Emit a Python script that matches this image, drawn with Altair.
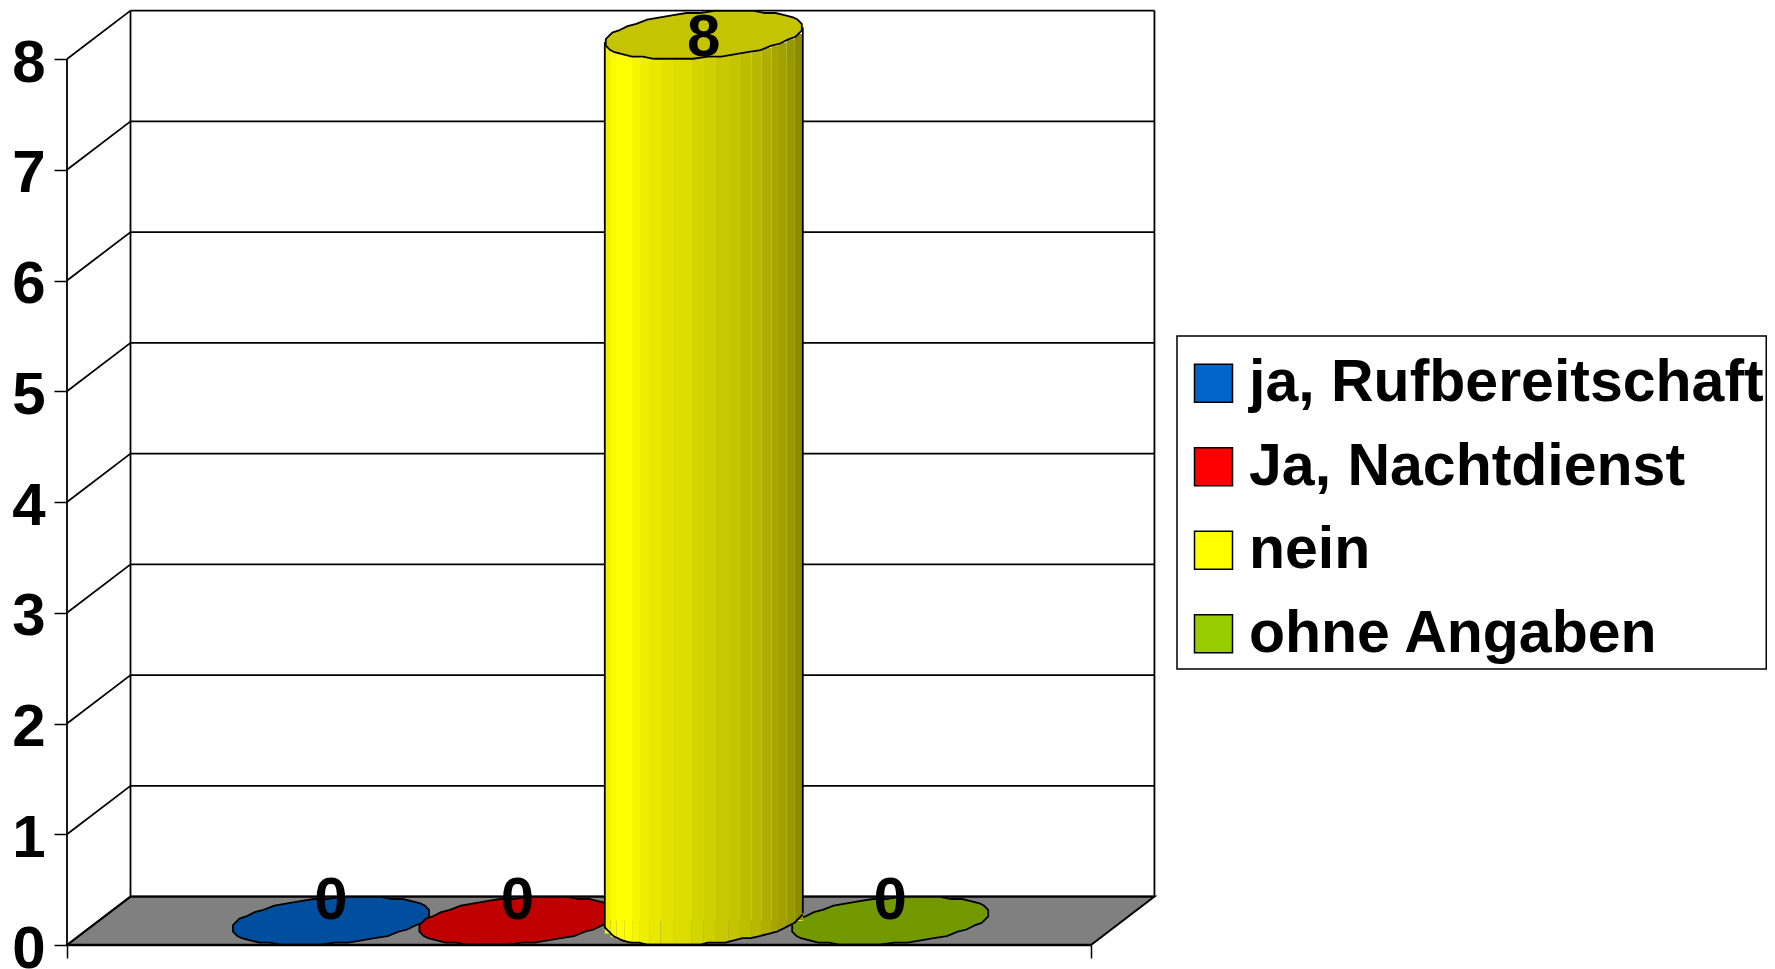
import altair as alt
import numpy as np
import pandas as pd

categories = ["ja, Rufbereitschaft", "Ja, Nachtdienst", "nein", "ohne Angaben"]
values = [0, 0, 8, 0]
legend_colors = ["#0066cc", "#ff0000", "#ffff00", "#99cc00"]
top_colors = ["#004f9e", "#c00000", "#c4c400", "#739900"]
y_ticks = [0, 1, 2, 3, 4, 5, 6, 7, 8]

strip_edges = [0.0, .03, .059, .099, .138, .177, .224, .281, .345, .439, .497, .561, .623, .682, .741, .791, .842, .875, .918, .96, 1.0]
strip_colors = ["#f0f000", "#fafa00", "#ffff00", "#ffff00", "#f6f600", "#eeee00", "#e8e800", "#e2e200", "#dcdc00", "#d4d400",
                "#cece00", "#c8c800", "#c4c400", "#bebe00", "#b8b800", "#aeae00", "#a6a600", "#a0a000", "#989800", "#8c8c00"]

FONT = "Liberation Sans"
UX = 186.4     # px per category
UY = 110.75    # px per value unit
XMIN, XMAX = -1.4163, 7.7039
YMAX = 935 / UY
xL, xR = XMIN, 4.077
dx, dy = 63.5 / UX, 48.4 / UY
R_px, A_px, S_px, B_px = 99.0, 94.0, 31.0, 24.15
R, A, S, B = R_px / UX, A_px / UX, S_px / UX, B_px / UY
mid = dy / 2
LW = 1.8

x_scale = alt.Scale(domain=[XMIN, XMAX], nice=False, zero=False)
y_scale = alt.Scale(domain=[0, YMAX], nice=False, zero=False)
x_axis = alt.Axis(values=[xL, xR], labels=False, domain=False, grid=False, ticks=True, tickSize=13,
                  tickColor="black", tickWidth=1.5, title=None)
y_axis = alt.Axis(values=y_ticks, domain=False, grid=False, ticks=True, tickSize=13, tickColor="black",
                  tickWidth=1.5, labelFont=FONT, labelFontSize=60, labelFontWeight="bold", title=None,
                  labelColor="black", labelPadding=9, labelOffset=4, labelFlush=False, labelOverlap=False)


def X(f):
    return alt.X(f, type="quantitative", scale=x_scale, axis=x_axis)


def Y(f):
    return alt.Y(f, type="quantitative", scale=y_scale, axis=y_axis)


def lower_u(xp):
    disc = np.maximum(S_px**2 * xp**2 - (S_px**2 + A_px**2) * (xp**2 - A_px**2), 0)
    return (S_px * xp - np.sqrt(disc)) / (S_px**2 + A_px**2)


def ellipse_path(n=44, grid=0.022):
    t = np.linspace(0, 2 * np.pi, n, endpoint=False) + 0.07
    xs = (A_px * np.cos(t) + S_px * np.sin(t)) / R_px
    ys = -(B_px * np.sin(t)) / R_px
    xs, ys = np.round(xs / grid) * grid, np.round(ys / grid) * grid
    return "M" + " L".join(f"{a:.3f},{b:.3f}" for a, b in zip(xs, ys)) + " Z"


def lower_arc_path(n=24, grid=0.022):
    xp = np.linspace(-R_px, R_px, n)
    u = lower_u(xp)
    xs, ys = xp / R_px, -(B_px * u) / R_px
    ys = np.round(ys / grid) * grid
    return "M" + " L".join(f"{a:.3f},{b:.3f}" for a, b in zip(xs, ys))


df = pd.DataFrame({"cat": categories, "value": values, "top": top_colors, "pos": [0, 1, 2, 3]})
df["left"] = df.pos - R
df["right"] = df.pos + R
df["base"] = np.minimum(df.value, mid)
df["center"] = df.value + mid
df["label_y"] = df.value + np.where(df.value == 0, 0.42, 0.217)
df["label"] = df.value.astype(str)
df["mid"] = mid

floor = pd.DataFrame({"x": [xL, xL + dx, xR, xR + dx], "y": [0, 0, 0, dy], "y2": [0, dy, dy, dy]})
grid = pd.DataFrame({"v": y_ticks})
grid["y"] = grid.v + dy
grid["x1"] = xL + dx
grid["x2"] = xR + dx
grid["xd"] = xL
wall = pd.DataFrame({"x": [xL, xL + dx, xR + dx], "y": [0, dy, dy], "y2": [8, 8 + dy, 8 + dy]})

cx = 2
strips = pd.DataFrame({"c": strip_colors})
e = np.array(strip_edges)
strips["x"] = cx + (-R + 2 * R * e[:-1])
strips["x2"] = cx + (-R + 2 * R * e[1:])
mp = (e[:-1] + e[1:]) / 2 * 2 * R_px - R_px
off = B_px * lower_u(mp) / UY
strips["y"] = mid + off
strips["y2"] = 8 + mid + off

sides = pd.DataFrame({"x": [cx - R, cx + R],
                      "y": [mid - B * S_px / R_px, mid + B * S_px / R_px],
                      "y2": [8 + mid - B * S_px / R_px, 8 + mid + B * S_px / R_px]})
box = pd.DataFrame({"x": [4.5386], "x2": [XMAX - 0.004], "y": [2.492], "y2": [5.499]})

floor_l = alt.Chart(floor).mark_area(color="#808080", interpolate="linear", stroke="black", strokeWidth=2).encode(
    x=X("x"), y=Y("y"), y2=alt.Y2("y2"))
grid_l = alt.Chart(grid).mark_rule(color="black", strokeWidth=LW).encode(x=X("x1"), x2=alt.X2("x2"), y=Y("y"))
diag_l = alt.Chart(grid).mark_rule(color="black", strokeWidth=LW).encode(x=X("xd"), x2=alt.X2("x1"), y=Y("v"), y2=alt.Y2("y"))
wall_l = alt.Chart(wall).mark_rule(color="black", strokeWidth=LW).encode(x=X("x"), y=Y("y"), y2=alt.Y2("y2"))
front_l = alt.Chart(pd.DataFrame({"a": [xL], "b": [xR], "v": [0]})).mark_rule(color="black", strokeWidth=2.5).encode(
    x=X("a"), x2=alt.X2("b"), y=Y("v"))

SIZE = (2 * R_px) ** 2
flat = df[df.value == 0]
high = df[df.value > 0]


def ell(d):
    return alt.Chart(d).mark_point(shape=ellipse_path(), filled=True, stroke="black", strokeWidth=LW, opacity=1,
                                   size=SIZE).encode(
        x=X("pos"), y=Y("center"), fill=alt.Fill("top:N", scale=None, legend=None))


bar_l = alt.Chart(df).mark_rect(stroke=None).encode(
    x=X("left"), x2=alt.X2("right"), y=Y("value"), y2=alt.Y2("base"),
    color=alt.Color("cat:N", scale=alt.Scale(domain=categories, range=legend_colors),
                    legend=alt.Legend(title=None, orient="none", legendX=1117, legendY=343.8, symbolType="square",
                                      symbolSize=1444, symbolStrokeColor="black", symbolStrokeWidth=1.5,
                                      labelFont=FONT, labelFontSize=59, labelFontWeight="bold", labelColor="black",
                                      labelLimit=800, rowPadding=23.5, labelOffset=6, padding=0,
                                      symbolOpacity=1)),
)
strip_l = alt.Chart(strips).mark_rect().encode(
    x=X("x"), x2=alt.X2("x2"), y=Y("y"), y2=alt.Y2("y2"), fill=alt.Fill("c:N", scale=None, legend=None))
side_l = alt.Chart(sides).mark_rule(color="black", strokeWidth=LW).encode(x=X("x"), y=Y("y"), y2=alt.Y2("y2"))
arc_l = alt.Chart(high).mark_point(shape=lower_arc_path(), filled=False, stroke="black", strokeWidth=LW,
                                   opacity=1, size=SIZE).encode(x=X("pos"), y=Y("mid"))
text_l = alt.Chart(df).mark_text(font=FONT, fontSize=60, fontWeight="bold", color="black", baseline="middle",
                                 dy=3).encode(x=X("pos"), y=Y("label_y"), text="label:N")
box_l = alt.Chart(box).mark_rect(fill="white", stroke="black", strokeWidth=1.5).encode(
    x=X("x"), x2=alt.X2("x2"), y=Y("y"), y2=alt.Y2("y2"))

chart = alt.layer(
    floor_l, grid_l, diag_l, wall_l, box_l, ell(flat), bar_l, strip_l, arc_l, side_l, ell(high), front_l, text_l
).resolve_scale(fill="independent").properties(
    width=1700, height=935, padding={"left": 59, "top": 2, "right": 0, "bottom": 24},
    autosize=alt.AutoSizeParams(type="none"), background="white"
).configure_view(stroke=None)

chart.save("out.html", embed_options={"renderer": "svg", "actions": False})
